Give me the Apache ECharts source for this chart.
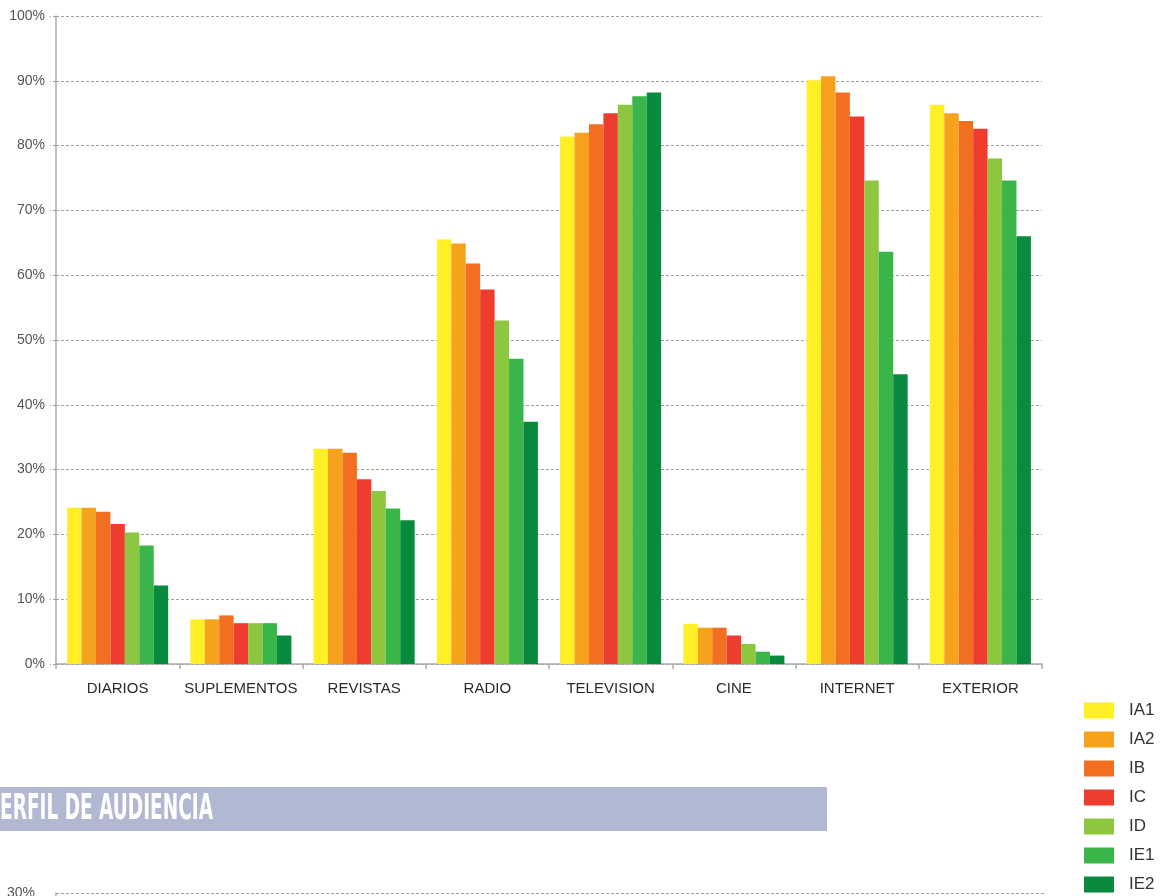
<!DOCTYPE html>
<html>
<head>
<meta charset="utf-8">
<script src="https://cdn.jsdelivr.net/npm/echarts@6/dist/echarts.min.js"></script>
<style>
  html, body { margin: 0; padding: 0; background: #fff; }
  #chart { width: 1164px; height: 896px; }
</style>
</head>
<body>
<div id="chart"></div>
<script>
// Media categories and audience reach (%) per socioeconomic level
const categories = ['DIARIOS', 'SUPLEMENTOS', 'REVISTAS', 'RADIO', 'TELEVISION', 'CINE', 'INTERNET', 'EXTERIOR'];
const levels = ['IA1', 'IA2', 'IB', 'IC', 'ID', 'IE1', 'IE2'];
const IA1 = [24.1, 6.9, 33.2, 65.5, 81.4, 6.2, 90.1, 86.3];
const IA2 = [24.1, 6.9, 33.2, 64.9, 82.0, 5.6, 90.7, 85.0];
const IB  = [23.5, 7.5, 32.6, 61.8, 83.3, 5.6, 88.2, 83.8];
const IC  = [21.6, 6.3, 28.5, 57.8, 85.0, 4.4, 84.5, 82.6];
const ID  = [20.3, 6.3, 26.7, 53.0, 86.3, 3.1, 74.6, 78.0];
const IE1 = [18.3, 6.3, 24.0, 47.1, 87.6, 1.9, 63.6, 74.6];
const IE2 = [12.1, 4.4, 22.2, 37.4, 88.2, 1.3, 44.7, 66.0];
const seriesValues = [IA1, IA2, IB, IC, ID, IE1, IE2];
const levelColors = ['#FFEF24', '#F7A21C', '#F26F21', '#EE3D2F', '#8DC63F', '#3AB54A', '#0A8A3E'];

// Section heading (first letter runs off the left edge)
const headingText = 'PERFIL DE AUDIENCIA';
const headingFont = "bold 35px 'Liberation Sans Narrow', 'DejaVu Sans Condensed', sans-serif";
const ctx = document.createElement('canvas').getContext('2d');
ctx.font = headingFont;
const visibleWidth = ctx.measureText(headingText.slice(1)).width;
const headingScale = 213 / visibleWidth;

const gridDash = { color: '#a0a0a0', type: [3, 2], width: 1 };
const axisGray = { color: '#aaaaaa', width: 1.5 };

const chart = echarts.init(document.getElementById('chart'), null, { renderer: 'canvas' });
chart.setOption({
  animation: false,
  backgroundColor: '#ffffff',
  color: levelColors,
  textStyle: { fontFamily: "'Liberation Sans', Arial, sans-serif" },
  grid: [
    { left: 56, right: 122, top: 16, bottom: 232 },
    { left: 56, right: 120, top: 893, height: 194 }
  ],
  legend: {
    data: levels,
    orient: 'vertical',
    left: 1084,
    top: 702,
    bottom: -30,
    padding: 0,
    itemWidth: 30,
    itemHeight: 16,
    itemGap: 12,
    icon: 'rect',
    textStyle: { fontSize: 17, color: '#333', padding: [0, 0, 0, 10] }
  },
  xAxis: [
    {
      type: 'category',
      gridIndex: 0,
      data: categories,
      axisLine: { lineStyle: axisGray },
      axisTick: { show: true, length: 5, lineStyle: axisGray },
      axisLabel: { fontSize: 15, color: '#2a2a2a', margin: 17, interval: 0 }
    },
    { type: 'category', gridIndex: 1, data: categories, show: false }
  ],
  yAxis: [
    {
      type: 'value',
      gridIndex: 0,
      min: 0,
      max: 100,
      interval: 10,
      axisLine: { show: true, lineStyle: axisGray },
      axisTick: { show: true, length: 6, lineStyle: gridDash },
      axisLabel: { fontSize: 14, color: '#555', margin: 11, formatter: '{value}%' },
      splitLine: { show: true, lineStyle: gridDash }
    },
    {
      type: 'value',
      gridIndex: 1,
      min: 0,
      max: 30,
      interval: 10,
      axisLine: { show: true, lineStyle: axisGray },
      axisTick: { show: false },
      axisLabel: { fontSize: 14, color: '#555', margin: 21, formatter: '{value}%' },
      splitLine: { show: true, lineStyle: gridDash }
    }
  ],
  series: levels.map((name, i) => ({
    name: name,
    type: 'bar',
    xAxisIndex: 0,
    yAxisIndex: 0,
    data: seriesValues[i],
    barGap: '0%',
    barCategoryGap: '18%',
    itemStyle: { color: levelColors[i] }
  })),
  graphic: [
    {
      type: 'rect',
      left: 0,
      top: 787,
      shape: { width: 827, height: 44 },
      style: { fill: '#B1B9D2' },
      z: 0
    },
    {
      type: 'text',
      x: 213,
      y: 810,
      scaleX: headingScale,
      style: {
        text: headingText,
        font: headingFont,
        fill: '#ffffff',
        align: 'right',
        verticalAlign: 'middle',
        textAlign: 'right',
        textVerticalAlign: 'middle'
      },
      z: 1
    }
  ]
});
</script>
</body>
</html>
